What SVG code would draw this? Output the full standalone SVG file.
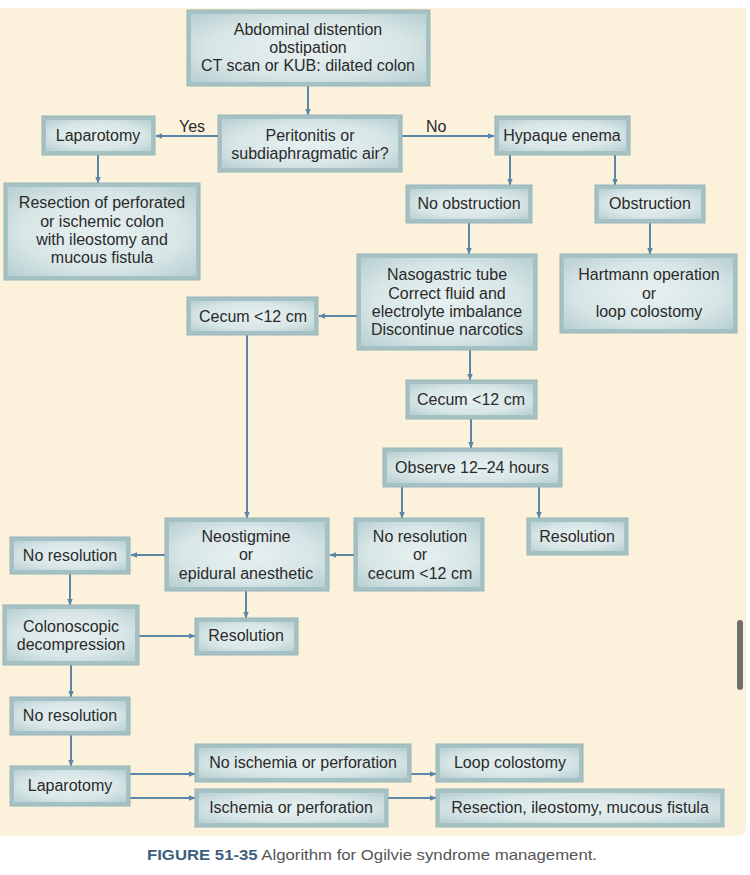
<svg xmlns="http://www.w3.org/2000/svg" width="750" height="875" viewBox="0 0 750 875">
<defs>
<radialGradient id="bg" cx="50%" cy="50%" r="70%">
<stop offset="0" stop-color="#e7f0f0"/>
<stop offset="0.6" stop-color="#d8e6e7"/>
<stop offset="1" stop-color="#b8cfd1"/>
</radialGradient>
<marker id="ah" viewBox="0 0 10 10" refX="9" refY="5" markerWidth="7" markerHeight="7" markerUnits="userSpaceOnUse" orient="auto">
<path d="M0,1 L10,5 L0,9 Z" fill="#5a86a8"/>
</marker>
</defs>
<style>
.o{fill:#a5c1c4;stroke:#96b4b7;stroke-width:1}
.i{fill:url(#bg)}
text{font-family:"Liberation Sans",Arial,sans-serif;font-size:16px;fill:#2a2a2a;text-anchor:middle}
.lbl{text-anchor:start}
.c line{stroke:#5a86a8;stroke-width:2;fill:none;marker-end:url(#ah)}
</style>
<rect x="0" y="0" width="750" height="875" fill="#ffffff"/>
<path d="M0,8 H746 V826 Q746,836 736,836 H0 Z" fill="#fcf2dc"/>
<rect x="737" y="620" width="6" height="70" rx="3" fill="#6f6f6f"/>

<g class="c" id="connectors">
<line x1="308" y1="86" x2="308" y2="115"/>
<line x1="218" y1="136" x2="156" y2="136"/>
<line x1="402" y1="136" x2="494" y2="136"/>
<line x1="98" y1="155" x2="98" y2="183"/>
<line x1="510" y1="155" x2="510" y2="185"/>
<line x1="615" y1="155" x2="615" y2="185"/>
<line x1="469" y1="223" x2="469" y2="254"/>
<line x1="650" y1="223" x2="650" y2="254"/>
<line x1="357" y1="316" x2="319" y2="316"/>
<line x1="470" y1="350" x2="470" y2="380"/>
<line x1="471" y1="419" x2="471" y2="448"/>
<line x1="402" y1="487" x2="402" y2="518"/>
<line x1="539" y1="487" x2="539" y2="518"/>
<line x1="247" y1="335" x2="247" y2="518"/>
<line x1="354" y1="555" x2="330" y2="555"/>
<line x1="165" y1="555" x2="131" y2="555"/>
<line x1="70" y1="574" x2="70" y2="605"/>
<line x1="246" y1="591" x2="246" y2="618"/>
<line x1="139" y1="636" x2="195" y2="636"/>
<line x1="71" y1="665" x2="71" y2="697"/>
<line x1="71" y1="735" x2="71" y2="766"/>
<line x1="130" y1="774" x2="195" y2="774"/>
<line x1="130" y1="798" x2="195" y2="798"/>
<line x1="411" y1="774" x2="436" y2="774"/>
<line x1="388" y1="798" x2="436" y2="798"/>
</g>

<text class="lbl" x="179" y="132">Yes</text>
<text class="lbl" x="426" y="132">No</text>

<g id="n1"><rect class="o" x="187" y="10" width="243" height="76"/><rect class="i" x="191" y="14" width="235" height="68"/>
<text x="308" y="35">Abdominal distention</text><text x="308" y="53">obstipation</text><text x="308" y="71">CT scan or KUB: dilated colon</text></g>

<g id="n2"><rect class="o" x="218" y="115" width="184" height="57"/><rect class="i" x="222" y="119" width="176" height="49"/>
<text x="310" y="141">Peritonitis or</text><text x="310" y="159">subdiaphragmatic air?</text></g>

<g id="n3"><rect class="o" x="42" y="116" width="113" height="39"/><rect class="i" x="46" y="120" width="105" height="31"/>
<text x="98" y="141">Laparotomy</text></g>

<g id="n4"><rect class="o" x="495" y="116" width="135" height="39"/><rect class="i" x="499" y="120" width="127" height="31"/>
<text x="562" y="141">Hypaque enema</text></g>

<g id="n5"><rect class="o" x="4" y="183" width="196" height="97"/><rect class="i" x="8" y="187" width="188" height="89"/>
<text x="102" y="208">Resection of perforated</text><text x="102" y="227">or ischemic colon</text><text x="102" y="245">with ileostomy and</text><text x="102" y="263">mucous fistula</text></g>

<g id="n6"><rect class="o" x="406" y="185" width="126" height="38"/><rect class="i" x="410" y="189" width="118" height="30"/>
<text x="469" y="209">No obstruction</text></g>

<g id="n7"><rect class="o" x="595" y="185" width="110" height="38"/><rect class="i" x="599" y="189" width="102" height="30"/>
<text x="650" y="209">Obstruction</text></g>

<g id="n8"><rect class="o" x="357" y="254" width="180" height="96"/><rect class="i" x="361" y="258" width="172" height="88"/>
<text x="447" y="280">Nasogastric tube</text><text x="447" y="299">Correct fluid and</text><text x="447" y="317">electrolyte imbalance</text><text x="447" y="335">Discontinue narcotics</text></g>

<g id="n9"><rect class="o" x="560" y="254" width="177" height="79"/><rect class="i" x="564" y="258" width="169" height="71"/>
<text x="649" y="280">Hartmann operation</text><text x="649" y="299">or</text><text x="649" y="317">loop colostomy</text></g>

<g id="n10"><rect class="o" x="187" y="297" width="131" height="38"/><rect class="i" x="191" y="301" width="123" height="30"/>
<text x="253" y="322">Cecum &lt;12 cm</text></g>

<g id="n11"><rect class="o" x="406" y="380" width="131" height="39"/><rect class="i" x="410" y="384" width="123" height="31"/>
<text x="471" y="405">Cecum &lt;12 cm</text></g>

<g id="n12"><rect class="o" x="383" y="448" width="179" height="39"/><rect class="i" x="387" y="452" width="171" height="31"/>
<text x="472" y="473">Observe 12–24 hours</text></g>

<g id="n13"><rect class="o" x="354" y="518" width="130" height="73"/><rect class="i" x="358" y="522" width="122" height="65"/>
<text x="420" y="542">No resolution</text><text x="420" y="560">or</text><text x="420" y="579">cecum &lt;12 cm</text></g>

<g id="n14"><rect class="o" x="527" y="518" width="101" height="37"/><rect class="i" x="531" y="522" width="93" height="29"/>
<text x="577" y="542">Resolution</text></g>

<g id="n15"><rect class="o" x="165" y="518" width="164" height="73"/><rect class="i" x="169" y="522" width="156" height="65"/>
<text x="246" y="542">Neostigmine</text><text x="246" y="560">or</text><text x="246" y="579">epidural anesthetic</text></g>

<g id="n16"><rect class="o" x="10" y="537" width="120" height="37"/><rect class="i" x="14" y="541" width="112" height="29"/>
<text x="70" y="561">No resolution</text></g>

<g id="n17"><rect class="o" x="3" y="605" width="136" height="60"/><rect class="i" x="7" y="609" width="128" height="52"/>
<text x="71" y="632">Colonoscopic</text><text x="71" y="650">decompression</text></g>

<g id="n18"><rect class="o" x="195" y="618" width="103" height="37"/><rect class="i" x="199" y="622" width="95" height="29"/>
<text x="246" y="641">Resolution</text></g>

<g id="n19"><rect class="o" x="10" y="697" width="120" height="38"/><rect class="i" x="14" y="701" width="112" height="30"/>
<text x="70" y="721">No resolution</text></g>

<g id="n20"><rect class="o" x="10" y="766" width="120" height="40"/><rect class="i" x="14" y="770" width="112" height="32"/>
<text x="70" y="791">Laparotomy</text></g>

<g id="n21"><rect class="o" x="195" y="744" width="216" height="38"/><rect class="i" x="199" y="748" width="208" height="30"/>
<text x="303" y="768">No ischemia or perforation</text></g>

<g id="n22"><rect class="o" x="195" y="789" width="193" height="38"/><rect class="i" x="199" y="793" width="185" height="30"/>
<text x="291" y="813">Ischemia or perforation</text></g>

<g id="n23"><rect class="o" x="436" y="744" width="147" height="38"/><rect class="i" x="440" y="748" width="139" height="30"/>
<text x="510" y="768">Loop colostomy</text></g>

<g id="n24"><rect class="o" x="436" y="789" width="288" height="38"/><rect class="i" x="440" y="793" width="280" height="30"/>
<text x="580" y="813">Resection, ileostomy, mucous fistula</text></g>

<text x="372" y="860" style="font-size:15px;fill:#555" textLength="450" lengthAdjust="spacingAndGlyphs"><tspan style="font-weight:bold;fill:#3d5f80">FIGURE 51-35</tspan> Algorithm for Ogilvie syndrome management.</text>
</svg>
